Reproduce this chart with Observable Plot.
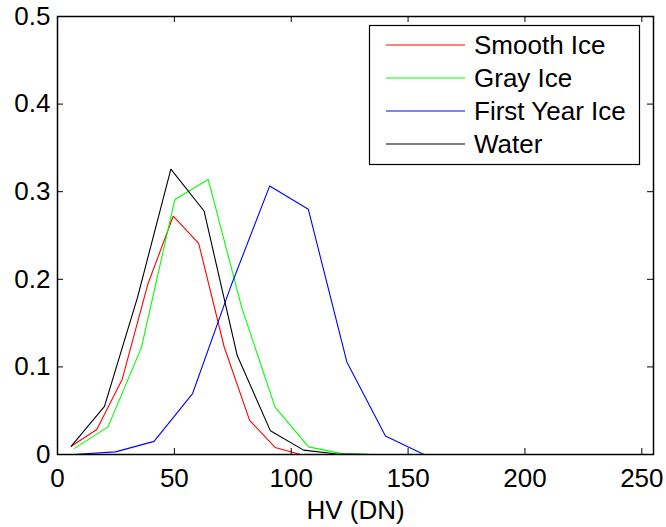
<!DOCTYPE html>
<html><head><meta charset="utf-8">
<script src="https://cdn.jsdelivr.net/npm/d3@7"></script>
<script src="https://cdn.jsdelivr.net/npm/@observablehq/plot@0.6"></script>
<style>body{margin:0;background:#fff}</style>
</head><body><div id="chart"></div>
<script>
const seriesNames = ["Smooth Ice", "Gray Ice", "First Year Ice", "Water"];
const seriesColors = ["#ff0000", "#00ff00", "#0000ff", "#000000"];

const smoothIceX = [5.9, 16.8, 27.7, 38.6, 49.5, 60.4, 71.3, 82.2, 93.1, 104];
const smoothIceY = [0.0095, 0.0285, 0.086, 0.194, 0.272, 0.241, 0.123, 0.039, 0.008, 0];
const grayIceX = [7.3, 21.6, 35.9, 50.2, 64.5, 78.8, 93.1, 107.4, 121.7, 136];
const grayIceY = [0.007, 0.0315, 0.122, 0.291, 0.314, 0.168, 0.054, 0.0087, 0.001, 0];
const firstYearX = [8.3, 24.8, 41.3, 57.8, 74.3, 90.8, 107.3, 123.8, 140.3, 156.8];
const firstYearY = [0.0003, 0.003, 0.015, 0.0696, 0.193, 0.3066, 0.280, 0.1057, 0.021, 0];
const waterX = [5.9, 20.1, 34.3, 48.5, 62.7, 76.9, 91.1, 105.3, 119.5, 133.7];
const waterY = [0.0095, 0.055, 0.18, 0.3257, 0.278, 0.113, 0.027, 0.005, 0.0005, 0];

const xTicks = [0, 50, 100, 150, 200, 250];
const yTicks = [0, 0.1, 0.2, 0.3, 0.4, 0.5];
const xLabel = "HV (DN)";

const allX = [smoothIceX, grayIceX, firstYearX, waterX];
const allY = [smoothIceY, grayIceY, firstYearY, waterY];
const rows = [];
seriesNames.forEach((s, i) => allX[i].forEach((x, j) => rows.push({series: s, x, y: allY[i][j]})));

const W = 666, H = 527, mL = 57, mR = 13, mT = 16, mB = 73;
const innerW = W - mL - mR, innerH = H - mT - mB, tk = 6;

const chart = Plot.plot({
  width: W, height: H,
  marginLeft: mL, marginRight: mR, marginTop: mT, marginBottom: mB,
  style: {fontFamily: "'Liberation Sans', Arial, Helvetica, sans-serif", fontSize: "26px", background: "#fff", color: "#000", overflow: "visible"},
  x: {domain: [0, 255]},
  y: {domain: [0, 0.5]},
  color: {domain: seriesNames, range: seriesColors},
  marks: [
    Plot.line(rows, {x: "x", y: "y", z: "series", stroke: "series", strokeWidth: 1.1}),
    Plot.tickX(xTicks, {x: d => d, insetTop: innerH - tk, stroke: "#000", strokeWidth: 1}),
    Plot.tickX(xTicks, {x: d => d, insetBottom: innerH - tk, stroke: "#000", strokeWidth: 1}),
    Plot.tickY(yTicks, {y: d => d, insetRight: innerW - tk, stroke: "#000", strokeWidth: 1}),
    Plot.tickY(yTicks, {y: d => d, insetLeft: innerW - tk, stroke: "#000", strokeWidth: 1}),
    Plot.axisX(xTicks, {tickSize: 0, tickPadding: 14, tickFormat: d => String(d), label: xLabel, labelAnchor: "center", labelArrow: "none", labelOffset: 64}),
    Plot.axisY(yTicks, {tickSize: 0, tickPadding: 7, tickFormat: d => String(d), label: null}),
    Plot.frame({stroke: "#000", strokeWidth: 1.5})
  ]
});
document.getElementById("chart").appendChild(chart);

// legend
const svg = d3.select(chart);
const lg = svg.append("g").attr("font-family", "'Liberation Sans', Arial, Helvetica, sans-serif").attr("font-size", 26).attr("text-anchor", "start");
lg.append("rect").attr("x", 369.5).attr("y", 25.5).attr("width", 270).attr("height", 139)
  .attr("fill", "#fff").attr("stroke", "#000").attr("stroke-width", 1.2);
seriesNames.forEach((name, i) => {
  const yy = 45 + i * 33;
  lg.append("line").attr("x1", 386).attr("x2", 465).attr("y1", yy).attr("y2", yy)
    .attr("stroke", seriesColors[i]).attr("stroke-width", 1.1);
  lg.append("text").attr("x", 474).attr("y", yy).attr("dy", "0.35em").attr("text-anchor", "start").attr("fill", "#000").text(name);
});
</script></body></html>
